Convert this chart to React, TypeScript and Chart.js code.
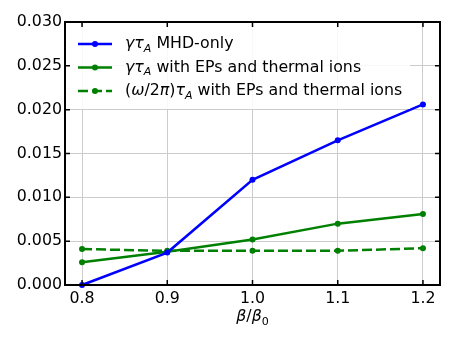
import React, { useEffect, useRef } from "react";
import { Chart, registerables } from "chart.js";

Chart.register(...registerables);

const X_VALUES = [0.8, 0.9, 1.0, 1.1, 1.2];
const MHD_ONLY = [0.0, 0.0037, 0.012, 0.0165, 0.0206];
const EP_GROWTH = [0.0026, 0.0038, 0.0052, 0.007, 0.0081];
const EP_FREQ = [0.0041, 0.0039, 0.0039, 0.0039, 0.0042];
const X_TICKS = [0.8, 0.9, 1.0, 1.1, 1.2];
const Y_TICKS = [0, 0.005, 0.01, 0.015, 0.02, 0.025, 0.03];

const BLUE = "#0000ff";
const GREEN = "#008000";
const FONT = '"DejaVu Sans"';
const FS = 15.8;

type Seg = { t: string; i?: boolean; s?: boolean };

function segFont(seg: Seg, size: number) {
  const sz = seg.s ? size * 0.7 : size;
  return `${seg.i ? "italic " : ""}${sz}px ${FONT}`;
}
function measureRich(ctx: CanvasRenderingContext2D, segs: Seg[], size: number) {
  let w = 0;
  for (const s of segs) {
    ctx.font = segFont(s, size);
    w += ctx.measureText(s.t).width;
  }
  return w;
}
function drawRich(ctx: CanvasRenderingContext2D, x: number, y: number, segs: Seg[], size: number) {
  ctx.textBaseline = "middle";
  ctx.textAlign = "left";
  ctx.fillStyle = "#000";
  for (const s of segs) {
    ctx.font = segFont(s, size);
    ctx.fillText(s.t, x, y + (s.s ? size * 0.3 : 0));
    x += ctx.measureText(s.t).width;
  }
}

const LEGEND: { segs: Seg[]; color: string; dash: number[] }[] = [
  {
    segs: [{ t: "γτ", i: true }, { t: "A", i: true, s: true }, { t: " MHD-only" }],
    color: BLUE,
    dash: [],
  },
  {
    segs: [{ t: "γτ", i: true }, { t: "A", i: true, s: true }, { t: " with EPs and thermal ions" }],
    color: GREEN,
    dash: [],
  },
  {
    segs: [
      { t: "(" },
      { t: "ω", i: true },
      { t: "/2" },
      { t: "π", i: true },
      { t: ")" },
      { t: "τ", i: true },
      { t: "A", i: true, s: true },
      { t: " with EPs and thermal ions" },
    ],
    color: GREEN,
    dash: [10, 4],
  },
];

const decorPlugin = {
  id: "decor",
  afterDatasetsDraw(chart: any) {
    const ctx: CanvasRenderingContext2D = chart.ctx;
    const { left, right, top, bottom } = chart.chartArea;
    const xs = chart.scales.x;
    const ys = chart.scales.y;
    ctx.save();
    // legend
    ctx.fillStyle = "rgba(255,255,255,0.85)";
    ctx.fillRect(left + 2, top + 3, 343, 84);
    const rows = [44, 67.5, 91];
    LEGEND.forEach((e, k) => {
      const y = rows[k];
      ctx.strokeStyle = e.color;
      ctx.lineWidth = 2.5;
      ctx.setLineDash(e.dash);
      ctx.beginPath();
      ctx.moveTo(78, y);
      ctx.lineTo(112, y);
      ctx.stroke();
      ctx.setLineDash([]);
      ctx.fillStyle = e.color;
      ctx.beginPath();
      ctx.arc(95, y, 3, 0, Math.PI * 2);
      ctx.fill();
      drawRich(ctx, 125, y, e.segs, FS);
    });
    // spines
    ctx.strokeStyle = "#000";
    ctx.lineWidth = 2;
    ctx.strokeRect(left, top, right - left, bottom - top);
    // inward ticks
    ctx.lineWidth = 1.5;
    ctx.beginPath();
    for (const v of X_TICKS) {
      const px = xs.getPixelForValue(v);
      ctx.moveTo(px, bottom);
      ctx.lineTo(px, bottom - 5);
      ctx.moveTo(px, top);
      ctx.lineTo(px, top + 5);
    }
    for (const v of Y_TICKS) {
      const py = ys.getPixelForValue(v);
      ctx.moveTo(left, py);
      ctx.lineTo(left + 5, py);
      ctx.moveTo(right, py);
      ctx.lineTo(right - 5, py);
    }
    ctx.stroke();
    // x label
    const xl: Seg[] = [{ t: "β", i: true }, { t: "/" }, { t: "β", i: true }, { t: "0", s: true }];
    const w = measureRich(ctx, xl, FS);
    drawRich(ctx, (left + right) / 2 - w / 2, 317, xl, FS);
    ctx.restore();
  },
};

export default function App() {
  const ref = useRef<HTMLCanvasElement | null>(null);
  useEffect(() => {
    if (!ref.current) return;
    const mk = (vals: number[]) => X_VALUES.map((x, i) => ({ x, y: vals[i] }));
    const chart = new Chart(ref.current, {
      type: "line",
      data: {
        datasets: [
          {
            label: "MHD-only",
            data: mk(MHD_ONLY),
            borderColor: BLUE,
            backgroundColor: BLUE,
            borderWidth: 2.5,
            pointRadius: 3,
            pointBorderWidth: 0,
            clip: false as any,
          },
          {
            label: "with EPs growth",
            data: mk(EP_GROWTH),
            borderColor: GREEN,
            backgroundColor: GREEN,
            borderWidth: 2.5,
            pointRadius: 3,
            pointBorderWidth: 0,
          },
          {
            label: "with EPs freq",
            data: mk(EP_FREQ),
            borderColor: GREEN,
            backgroundColor: GREEN,
            borderWidth: 2.5,
            borderDash: [10, 4],
            pointRadius: 3,
            pointBorderWidth: 0,
          },
        ],
      },
      options: {
        responsive: false,
        animation: false,
        layout: { padding: { left: 0, top: 22, right: 17, bottom: 0 } },
        plugins: { legend: { display: false }, tooltip: { enabled: false } },
        scales: {
          x: {
            type: "linear",
            min: 0.78,
            max: 1.22,
            afterBuildTicks: (s: any) => {
              s.ticks = X_TICKS.map((v) => ({ value: v }));
            },
            afterFit: (s: any) => {
              s.height = 58;
            },
            grid: { color: "#cccccc", lineWidth: 1, drawTicks: false },
            border: { display: false },
            ticks: {
              padding: 4,
              color: "#000",
              font: { family: "DejaVu Sans", size: FS },
              callback: (v: any) => Number(v).toFixed(1),
            },
          },
          y: {
            type: "linear",
            min: 0,
            max: 0.03,
            afterBuildTicks: (s: any) => {
              s.ticks = Y_TICKS.map((v) => ({ value: v }));
            },
            afterFit: (s: any) => {
              s.width = 65;
            },
            grid: { color: "#cccccc", lineWidth: 1, drawTicks: false },
            border: { display: false },
            ticks: {
              padding: 3,
              color: "#000",
              font: { family: "DejaVu Sans", size: FS },
              callback: (v: any) => Number(v).toFixed(3),
            },
          },
        },
      },
      plugins: [decorPlugin],
    } as any);
    return () => chart.destroy();
  }, []);
  return (
    <div style={{ position: "absolute", left: 0, top: 0, width: 457, height: 343, background: "#fff" }}>
      <canvas ref={ref} width={457} height={343} style={{ width: 457, height: 343, display: "block" }} />
    </div>
  );
}
